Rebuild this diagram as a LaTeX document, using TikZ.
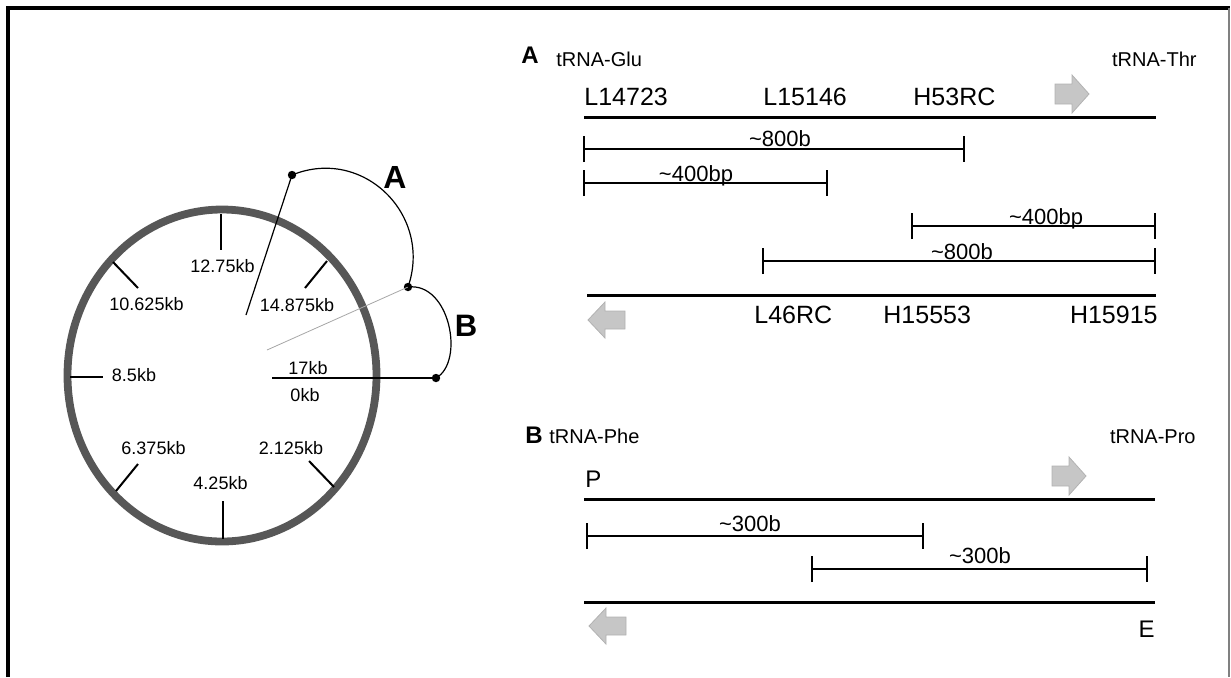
\documentclass[tikz,border=0pt]{standalone}
\usepackage{fontspec}
\setmainfont{Liberation Sans}
\usetikzlibrary{arrows.meta}
\definecolor{ringgray}{HTML}{575757}
\begin{document}
\begin{tikzpicture}[x=0.5pt,y=-0.5pt,
  lbl/.style={font=\fontsize{9pt}{10pt}\selectfont, inner sep=0pt, anchor=base},
  trna/.style={font=\fontsize{10pt}{12pt}\selectfont, inner sep=0pt, anchor=base west},
  prim/.style={font=\fontsize{12.5pt}{14pt}\selectfont, inner sep=0pt, anchor=base west},
  len/.style={font=\fontsize{11pt}{13pt}\selectfont, inner sep=0pt, anchor=base},
  panel/.style={font=\bfseries\fontsize{12pt}{14pt}\selectfont, inner sep=0pt, anchor=base west},
  big/.style={font=\bfseries\fontsize{16pt}{18pt}\selectfont, inner sep=0pt, anchor=base},
  strand/.style={line width=1.5pt},
  bar/.style={line width=0.9pt, {Bar[width=13pt]}-{Bar[width=13pt]}},
  ring/.style={line width=3.9pt, draw=ringgray},
  tickline/.style={line width=1pt},
  dot/.style={circle, fill=black, inner sep=0pt, minimum size=4.2pt},
  conn/.style={line width=0.6pt},
  arrowfill/.style={fill=gray!45, draw=gray!60, line width=0.4pt},
  rarr/.pic={\filldraw[arrowfill] (0,-10) -- (17,-10) -- (17,-19) -- (34,0) -- (17,19) -- (17,10) -- (0,10) -- cycle;},
  larr/.pic={\filldraw[arrowfill] (0,0) -- (17,-18) -- (17,-9) -- (37,-9) -- (37,9) -- (17,9) -- (17,18) -- cycle;}
]
\useasboundingbox (0,0) rectangle (1231,677);
% frame
\draw[line width=2pt] (8,677) -- (8,8) -- (1230,8);
\draw[gray, line width=0.6pt] (1229,8) -- (1229,677);

% ---------- circular map ----------
\draw[ring] (222,375.5) ellipse [x radius=77.25pt, y radius=83pt];
\draw[tickline] (221,214) -- (221,250);
\draw[tickline] (223,501) -- (223,539);
\draw[tickline] (70,376.5) -- (103,376.5);
\draw[tickline] (113,262) -- (138,288);
\draw[tickline] (327,261) -- (305,288);
\draw[tickline] (116,491) -- (138,464);
\draw[tickline] (309,461) -- (334,487);

\node[lbl] (l1275) at (222.5,272) {12.75kb};
\node[lbl] (l10625) at (146.5,310) {10.625kb};
\node[lbl] (l14875) at (297,311) {14.875kb};
\node[lbl] (l85) at (134,381) {8.5kb};
\node[lbl] (l17) at (308,374) {17kb};
\node[lbl] (l0) at (305,401) {0kb};
\node[lbl] (l6375) at (153.5,454) {6.375kb};
\node[lbl] (l2125) at (291,454) {2.125kb};
\node[lbl] (l425) at (220.5,489) {4.25kb};

% dots and connectors
\node[dot] (dA) at (292,175) {};
\node[dot] (dAB) at (408,287) {};
\node[dot] (dB) at (436,378) {};
\coordinate (cA) at (246,315);
\coordinate (cAB) at (267,350);
\coordinate (c0) at (272,378);
\coordinate (cmid) at (338,378);

\draw[conn] (dA.center) -- (cA);
\draw[line width=0.4pt, gray!70] (dAB.center) -- (cAB);
\draw[line width=0.6pt] (c0) -- (cmid);
\draw[line width=0.9pt] (cmid) -- (dB.center);
\draw[conn] (dA.center) .. controls (363,146) and (433,215) .. (dAB.center);
\draw[conn] (dAB.center) .. controls (450,282) and (465,362) .. (dB.center);

\node[big] (bigA) at (395,188) {A};
\node[big, font=\bfseries\fontsize{15.5pt}{18pt}\selectfont] (bigB) at (466,336) {B};

% ---------- panel A ----------
\node[panel] (pA) at (521,63) {A};
\node[trna] (glu) at (556,66) {tRNA-Glu};
\node[trna, anchor=base east] (thr) at (1197,66) {tRNA-Thr};
\node[prim] (p1) at (584,105) {L14723};
\node[prim] (p2) at (763,105) {L15146};
\node[prim] (p3) at (913,105) {H53RC};
\pic at (1055,94) {rarr};
\coordinate (sA1) at (584,117); \coordinate (sA2) at (1156,117);
\draw[strand] (sA1) -- (sA2);

\coordinate (b1a) at (583,149); \coordinate (b1b) at (965,149);
\draw[bar] (b1a) -- (b1b);
\node[len] (t1) at (780,146) {\textasciitilde800b};
\coordinate (b2a) at (583,183); \coordinate (b2b) at (828,183);
\draw[bar] (b2a) -- (b2b);
\node[len] (t2) at (696,181) {\textasciitilde400bp};
\coordinate (b3a) at (911,226); \coordinate (b3b) at (1156,226);
\draw[bar] (b3a) -- (b3b);
\node[len] (t3) at (1046,224) {\textasciitilde400bp};
\coordinate (b4a) at (762,261); \coordinate (b4b) at (1156,261);
\draw[bar] (b4a) -- (b4b);
\node[len] (t4) at (962,259) {\textasciitilde800b};

\coordinate (sA3) at (587,295); \coordinate (sA4) at (1156,295);
\draw[strand] (sA3) -- (sA4);
\pic at (588,320) {larr};
\node[prim] (p4) at (754,323) {L46RC};
\node[prim] (p5) at (883,323) {H15553};
\node[prim, anchor=base east] (p6) at (1158,323) {H15915};

% ---------- panel B ----------
\node[panel] (pB) at (525,443) {B};
\node[trna] (phe) at (549,443) {tRNA-Phe};
\node[trna, anchor=base east] (pro) at (1196,443) {tRNA-Pro};
\node[prim, font=\fontsize{12pt}{14pt}\selectfont] (pP) at (585,487) {P};
\pic at (1052,476) {rarr};
\coordinate (sB1) at (584,499); \coordinate (sB2) at (1155,499);
\draw[strand] (sB1) -- (sB2);

\coordinate (b5a) at (586,536); \coordinate (b5b) at (924,536);
\draw[bar] (b5a) -- (b5b);
\node[len] (t5) at (750,531) {\textasciitilde300b};
\coordinate (b6a) at (811,569); \coordinate (b6b) at (1148,569);
\draw[bar] (b6a) -- (b6b);
\node[len] (t6) at (980,563) {\textasciitilde300b};

\coordinate (sB3) at (584,602); \coordinate (sB4) at (1155,602);
\draw[strand] (sB3) -- (sB4);
\pic at (589,626) {larr};
\node[prim, anchor=base east, font=\fontsize{12pt}{14pt}\selectfont] (pE) at (1155,637) {E};
\end{tikzpicture}
\end{document}
